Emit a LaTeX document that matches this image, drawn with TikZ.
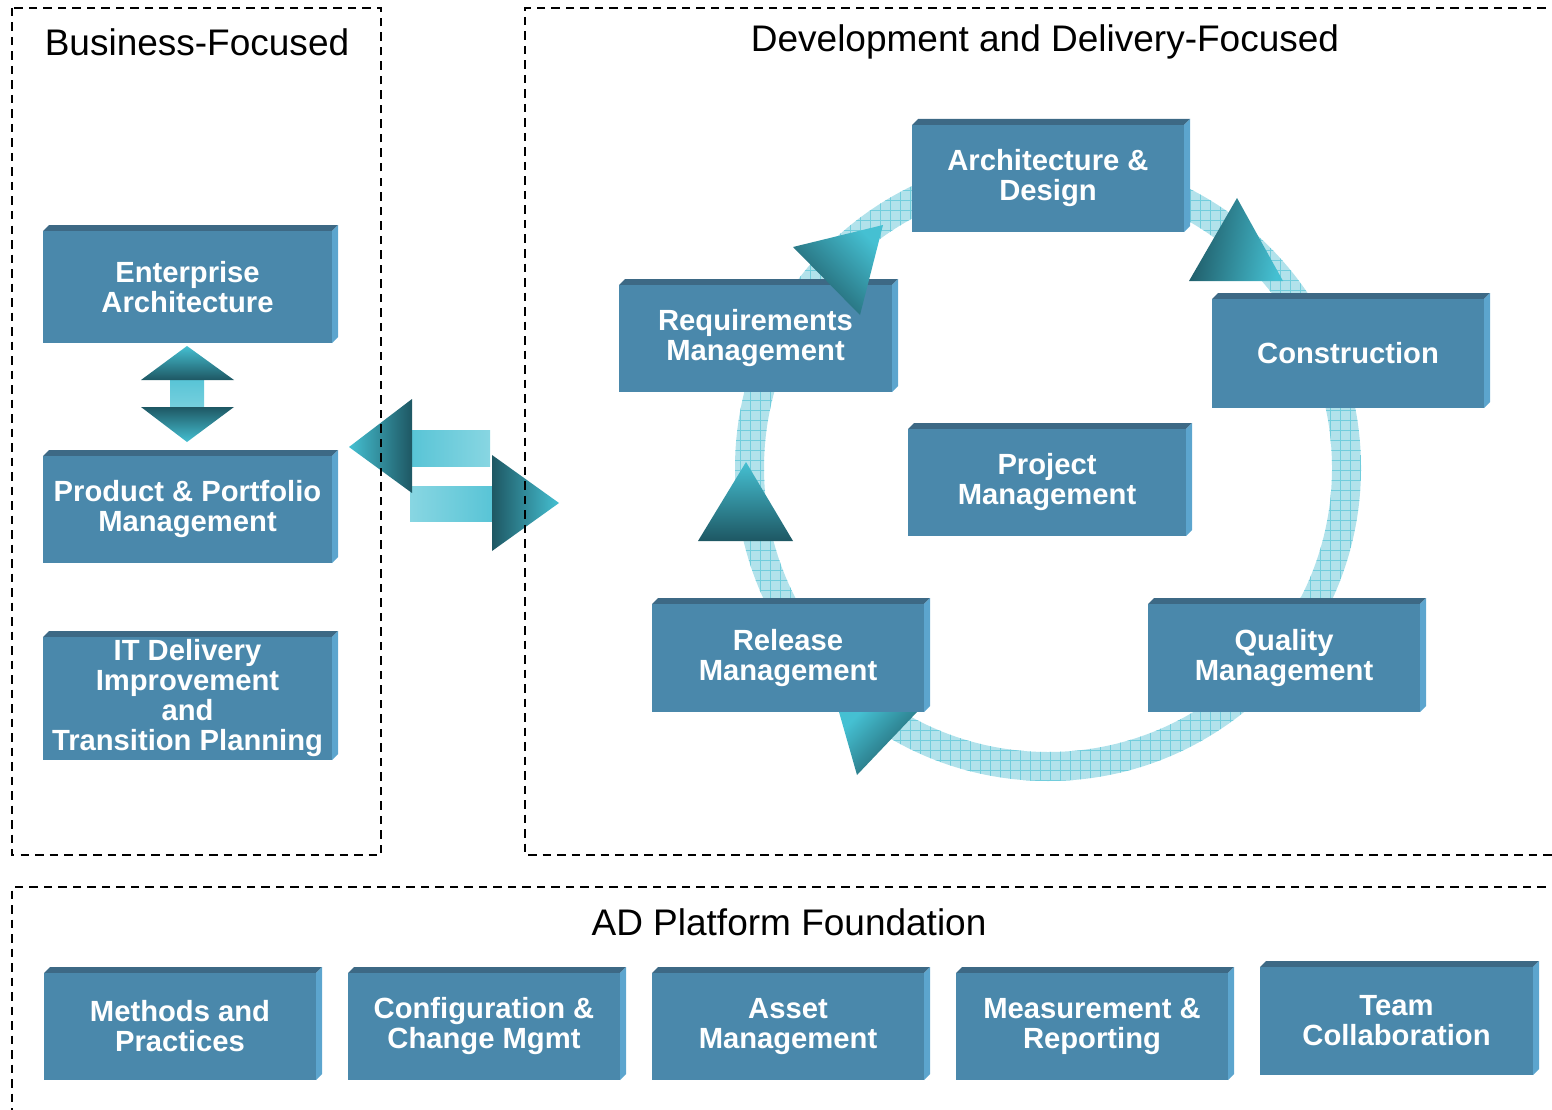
\documentclass[tikz,border=0pt]{standalone}
\usepackage{fontspec}
\setmainfont{Liberation Sans}
\usetikzlibrary{patterns.meta}

\definecolor{boxface}{HTML}{4A88AB}
\definecolor{bevtopc}{HTML}{3D6985}
\definecolor{bevsidec}{HTML}{5CA5CE}
\definecolor{tealdark}{HTML}{1E5763}
\definecolor{tealcyan}{HTML}{45C0D2}
\definecolor{shaftmid}{HTML}{58C4D6}
\definecolor{shaftlight}{HTML}{88D6E2}
\definecolor{ringbase}{HTML}{B2E2EB}
\definecolor{ringline}{HTML}{72CDDC}

\tikzset{
  blk/.style={fill=boxface, text=white, align=center, inner sep=0pt,
    font=\fontsize{29.2}{30}\selectfont\bfseries},
  frame/.style={draw=black, line width=2.5pt, dash pattern=on 8.5pt off 6pt},
  ttl/.style={font=\fontsize{37}{40}\selectfont, inner sep=0pt},
}

% 3D block: name, x0, y0, x1, y1 (front face), text
\newcommand\blk[6]{%
  \fill[bevtopc] (#2,#3) -- (#2+6,#3-6) -- (#4+6,#3-6) -- (#4,#3) -- cycle;
  \fill[bevsidec] (#4,#3) -- (#4+6,#3-6) -- (#4+6,#5-6) -- (#4,#5) -- cycle;
  \node[blk, minimum width={(#4-#2)*1pt}, minimum height={(#5-#3)*1pt}]
    (#1) at ({(#2+#4)/2},{(#3+#5)/2}) {#6};
}

\begin{document}
\begin{tikzpicture}[x=1pt, y=-1pt]
\useasboundingbox (0,0) rectangle (1552,1110);

% lifecycle ring
\coordinate (rc) at (1048,468);
\fill[ringbase, even odd rule] (rc) circle (313pt) (rc) circle (284pt);
\fill[pattern={Lines[angle=0, distance=10pt, line width=0.7pt]}, pattern color=ringline, even odd rule]
  (rc) circle (313pt) (rc) circle (284pt);
\fill[pattern={Lines[angle=90, distance=10pt, line width=0.7pt]}, pattern color=ringline, even odd rule]
  (rc) circle (313pt) (rc) circle (284pt);

% business-focused blocks
\blk{ea}{43}{231}{332}{343}{Enterprise\\Architecture}
\blk{ppm}{43}{456}{332}{563}{Product \& Portfolio\\Management}
\blk{itd}{43}{637}{332}{760}{IT Delivery\\Improvement\\and\\Transition Planning}

% development and delivery blocks
\blk{ad}{912}{125}{1184}{232}{Architecture \&\\Design}
\blk{req}{619}{285}{892}{392}{Requirements\\Management}
\blk{con}{1212}{299}{1484}{408}{Construction}
\blk{pm}{908}{429}{1186}{536}{Project\\Management}
\blk{rel}{652}{604}{924}{712}{Release\\Management}
\blk{qm}{1148}{604}{1420}{712}{Quality\\Management}

% platform blocks
\blk{mp}{44}{973}{316}{1080}{Methods and\\Practices}
\blk{ccm}{348}{973}{620}{1080}{Configuration \&\\Change Mgmt}
\blk{am}{652}{973}{924}{1080}{Asset\\Management}
\blk{mr}{956}{973}{1228}{1080}{Measurement \&\\Reporting}
\blk{tc}{1260}{967}{1533}{1075}{Team\\Collaboration}

% arrowheads along the ring
\shade[top color=tealcyan, bottom color=tealdark, shading angle=-45]
  (793,247) -- (883,225) -- (860,315) -- cycle;
\shade[top color=tealcyan, bottom color=tealdark, shading angle=-100]
  (1237,198) -- (1283,281) -- (1189,281) -- cycle;
\shade[top color=tealcyan, bottom color=tealdark, shading angle=0]
  (746,462) -- (793,541) -- (698,541) -- cycle;
\shade[top color=tealcyan, bottom color=tealdark, shading angle=45]
  (839,712) -- (917,712) -- (857,775) -- cycle;

% two-way arrow between enterprise architecture and portfolio
\shade[top color=shaftmid, bottom color=shaftlight] (170,379) rectangle (204,424);
\shade[top color=tealcyan, bottom color=tealdark, shading angle=0]
  (187,346) -- (234,380) -- (141,380) -- cycle;
\shade[top color=tealcyan, bottom color=tealdark, shading angle=180]
  (141,407) -- (234,407) -- (187,442) -- cycle;

% exchange arrows between business and delivery
\shade[left color=shaftmid, right color=shaftlight] (411,430) rectangle (490,466);
\shade[left color=shaftlight, right color=shaftmid] (410,486) rectangle (493,521);
\shade[top color=tealcyan, bottom color=tealdark, shading angle=90]
  (349,447) -- (412,399) -- (412,493) -- cycle;
\shade[top color=tealcyan, bottom color=tealdark, shading angle=-90]
  (559,503) -- (492,455) -- (492,551) -- cycle;

% dashed frames and titles
\draw[frame] (12,8) rectangle (381,855);
\draw[frame] (1560,8) -- (525,8) -- (525,855) -- (1560,855);
\draw[frame] (1560,887) -- (12,887) -- (12,1120);

\node[ttl] (tbus) at (197,42) {Business-Focused};
\node[ttl] (tdev) at (1045,42) {Development and Delivery-Focused};
\node[ttl] (tplat) at (789,922) {AD Platform Foundation};
\end{tikzpicture}
\end{document}
